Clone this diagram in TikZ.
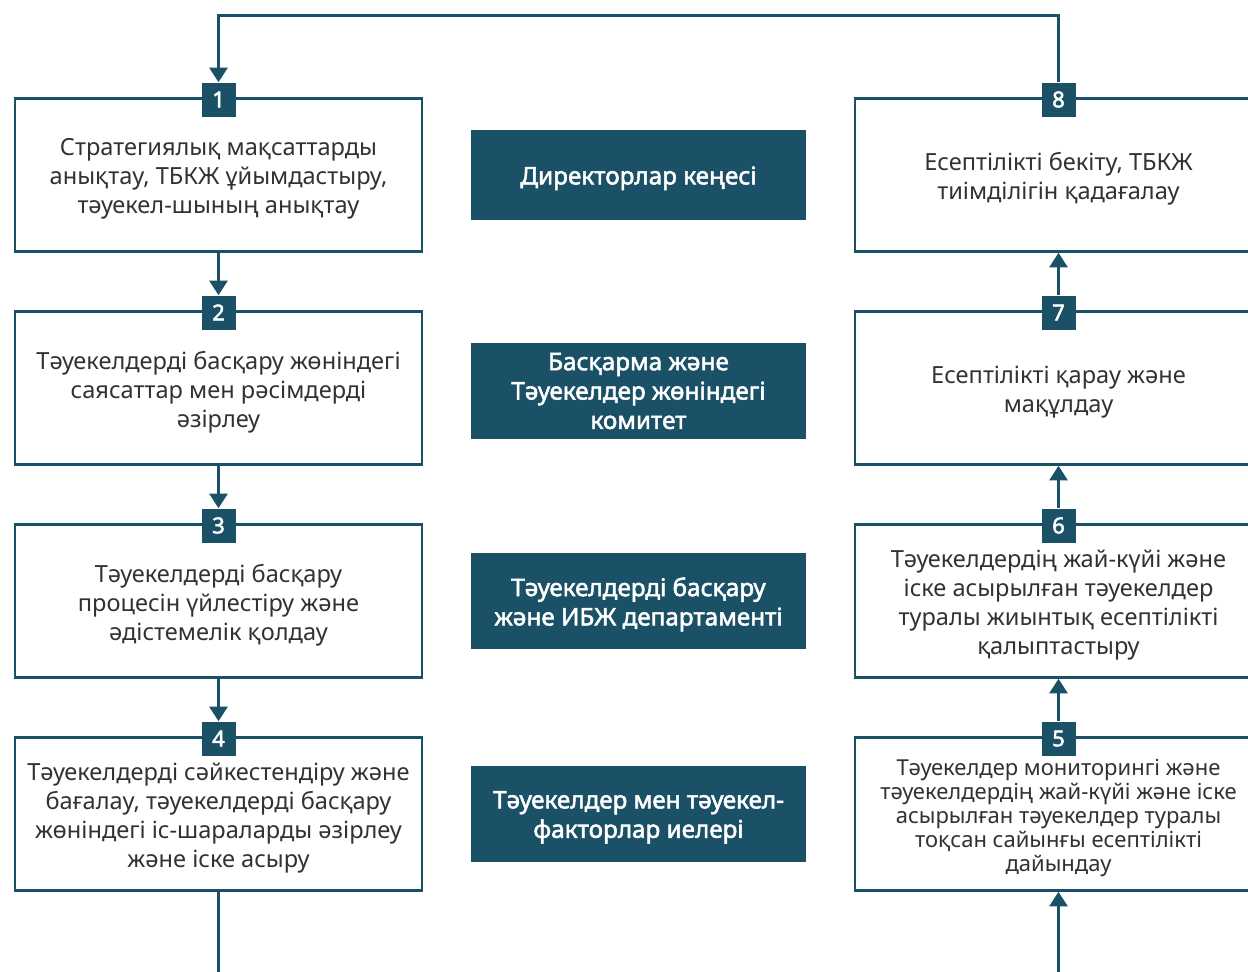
\documentclass[tikz,border=0pt]{standalone}
\usepackage{fontspec}
\setmainfont{Noto Sans}
\newfontfamily\notobold{Noto Sans}[FakeBold=2.2]
\usetikzlibrary{arrows.meta}
\definecolor{teal}{RGB}{27,81,102}
\definecolor{txt}{RGB}{50,50,50}
\tikzset{
  stepbox/.style={draw=teal, line width=1.9pt, fill=white, minimum width=305.25pt, minimum height=114.75pt, inner sep=0pt},
  steptext/.style={align=center, text=txt, font=\fontsize{17.7}{21.75}\selectfont, inner sep=0pt},
  rolebox/.style={fill=teal, minimum width=251.25pt, inner sep=0pt},
  roletext/.style={align=center, text=white, font=\fontsize{18.2}{22}\notobold, inner sep=0pt},
  badge/.style={fill=teal, minimum width=25.5pt, minimum height=25.5pt, inner sep=0pt, text=white, font=\fontsize{16.5}{16.5}\notobold},
  conn/.style={draw=teal, line width=2.25pt},
  arr/.style={conn, -{Triangle[width=13.5pt,length=11pt]}}
}
\begin{document}
\begin{tikzpicture}[x=0.75pt,y=-0.75pt]
\clip (0,0) rectangle (1248,971);
\fill[white] (0,0) rectangle (1248,971);
% step boxes
\node[stepbox] (b1) at (218.5,175) {};
\node[stepbox] (b2) at (218.5,388) {};
\node[stepbox] (b3) at (218.5,601) {};
\node[stepbox] (b4) at (218.5,814) {};
\node[stepbox] (b8) at (1058.5,175) {};
\node[stepbox] (b7) at (1058.5,388) {};
\node[stepbox] (b6) at (1058.5,601) {};
\node[stepbox] (b5) at (1058.5,814) {};
\node[steptext] (t1) at ([yshift=-3pt]b1.center) {Стратегиялық мақсаттарды\\анықтау, ТБКЖ ұйымдастыру,\\тәуекел-шының анықтау};
\node[steptext] (t2) at ([yshift=-3pt]b2.center) {Тәуекелдерді басқару жөніндегі\\саясаттар мен рәсімдерді\\әзірлеу};
\node[steptext] (t3) at ([yshift=-3pt]b3.center) {Тәуекелдерді басқару\\процесін үйлестіру және\\әдістемелік қолдау};
\node[steptext] (t4) at ([yshift=-3pt]b4.center) {Тәуекелдерді сәйкестендіру және\\бағалау, тәуекелдерді басқару\\жөніндегі іс-шараларды әзірлеу\\және іске асыру};
\node[steptext] (t8) at ([yshift=-3pt]b8.center) {Есептілікті бекіту, ТБКЖ\\тиімділігін қадағалау};
\node[steptext] (t7) at ([yshift=-3pt]b7.center) {Есептілікті қарау және\\мақұлдау};
\node[steptext] (t6) at ([yshift=-3pt]b6.center) {Тәуекелдердің жай-күйі және\\іске асырылған тәуекелдер\\туралы жиынтық есептілікті\\қалыптастыру};
\node[steptext, font=\fontsize{16.5}{18}\selectfont] (t5) at ([yshift=-3pt]b5.center) {Тәуекелдер мониторингі және\\тәуекелдердің жай-күйі және іске\\асырылған тәуекелдер туралы\\тоқсан сайынғы есептілікті\\дайындау};
% role boxes
\node[rolebox, minimum height=67.5pt] (r1) at (638.5,175) {};
\node[rolebox, minimum height=72pt] (r2) at (638.5,391) {};
\node[rolebox, minimum height=72pt] (r3) at (638.5,601) {};
\node[rolebox, minimum height=72pt] (r4) at (638.5,814) {};
\node[roletext] (s1) at ([yshift=-2.5pt]r1.center) {Директорлар кеңесі};
\node[roletext] (s2) at ([yshift=0pt]r2.center) {Басқарма және\\Тәуекелдер жөніндегі\\комитет};
\node[roletext] (s3) at ([yshift=-2.5pt]r3.center) {Тәуекелдерді басқару\\және ИБЖ департаменті};
\node[roletext] (s4) at ([yshift=-2.5pt]r4.center) {Тәуекелдер мен тәуекел-\\факторлар иелері};
% badges
\node[badge] (n1) at (218.5,99.5) {1};
\node[badge] (n2) at (218.5,312.5) {2};
\node[badge] (n3) at (218.5,525.5) {3};
\node[badge] (n4) at (218.5,738.5) {4};
\node[badge] (n8) at (1058.5,99.5) {8};
\node[badge] (n7) at (1058.5,312.5) {7};
\node[badge] (n6) at (1058.5,525.5) {6};
\node[badge] (n5) at (1058.5,738.5) {5};
% connectors
\coordinate (tl) at (218.5,15);
\coordinate (tr) at (1058.5,15);
\coordinate (bl) at (218.5,975);
\coordinate (br) at (1058.5,975);
\draw[arr] (n8.north) -- (tr) -- (tl) -- (n1.north);
\draw[arr] (b1.south) -- (n2.north);
\draw[arr] (b2.south) -- (n3.north);
\draw[arr] (b3.south) -- (n4.north);
\draw[conn] (b4.south) -- (bl);
\draw[arr] (br) -- (b5.south);
\draw[arr] (n5.north) -- (b6.south);
\draw[arr] (n6.north) -- (b7.south);
\draw[arr] (n7.north) -- (b8.south);
\end{tikzpicture}
\end{document}
